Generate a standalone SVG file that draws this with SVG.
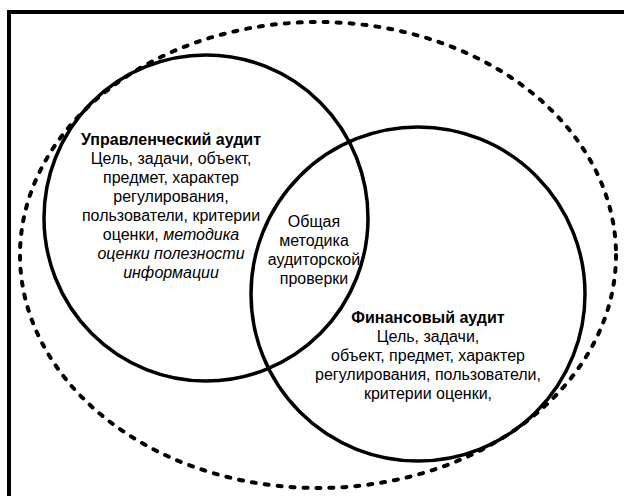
<svg xmlns="http://www.w3.org/2000/svg" width="624" height="496" viewBox="0 0 624 496">
<style>
.frame{fill:none;stroke:#000;stroke-width:4}
.outer{fill:none;stroke:#000;stroke-width:4;stroke-dasharray:4 9;stroke-linecap:round}
.set{fill:none;stroke:#000;stroke-width:3.5}
text{font-family:"Liberation Sans",Arial,sans-serif;font-size:16px;fill:#000;text-anchor:middle}
.b{font-weight:bold}
.i{font-style:italic}
</style>
<rect width="624" height="496" fill="#fff"/>
<path class="frame" d="M9,496 V12 H624"/>
<g id="outer">
<ellipse class="outer" cx="318" cy="255" rx="298" ry="233"/>
</g>
<g id="management">
<ellipse class="set" cx="206" cy="218" rx="162" ry="163"/>
<text x="171" y="145" class="b">Управленческий аудит</text>
<text x="171" y="164">Цель, задачи, объект,</text>
<text x="171" y="183">предмет, характер</text>
<text x="171" y="202">регулирования,</text>
<text x="171" y="221">пользователи, критерии</text>
<text x="171" y="240">оценки, <tspan class="i">методика</tspan></text>
<text x="171" y="259" class="i">оценки полезности</text>
<text x="171" y="278" class="i">информации</text>
</g>
<g id="financial">
<ellipse class="set" cx="418" cy="294" rx="167" ry="167"/>
<text x="428" y="323" class="b">Финансовый аудит</text>
<text x="428" y="342">Цель, задачи,</text>
<text x="428" y="361">объект, предмет, характер</text>
<text x="428" y="380">регулирования, пользователи,</text>
<text x="428" y="399">критерии оценки,</text>
</g>
<g id="common">
<text x="314" y="227">Общая</text>
<text x="314" y="246">методика</text>
<text x="314" y="265">аудиторской</text>
<text x="314" y="284">проверки</text>
</g>
<g id="connectors"></g>
</svg>
